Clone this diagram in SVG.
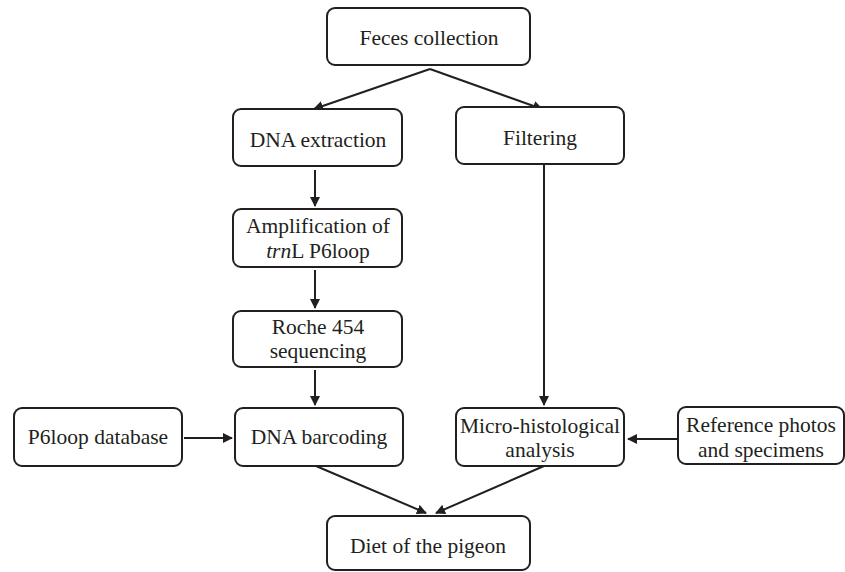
<svg xmlns="http://www.w3.org/2000/svg" width="845" height="572" viewBox="0 0 845 572">
<defs>
<style>
.box{fill:#fff;stroke:#231f20;stroke-width:2}
.t{font-family:'Liberation Serif','Times New Roman',Times,'DejaVu Serif',serif;font-size:21.5px;fill:#231f20;text-anchor:middle}
.c{stroke:#231f20;stroke-width:2;fill:none;marker-end:url(#ah)}
</style>
<marker id="ah" viewBox="0 0 10 10" refX="9" refY="5" markerWidth="5" markerHeight="5" orient="auto" markerUnits="strokeWidth">
<path d="M0,0 L10,5 L0,10 z" fill="#231f20"/>
</marker>
</defs>
<rect width="845" height="572" fill="#fff"/>
<g id="connectors">
<line class="c" x1="430" y1="69" x2="314" y2="109"/>
<line class="c" x1="430" y1="69" x2="542" y2="109"/>
<line class="c" x1="315" y1="170" x2="315" y2="206"/>
<line class="c" x1="315" y1="270" x2="315" y2="308"/>
<line class="c" x1="315" y1="370" x2="315" y2="405"/>
<line class="c" x1="544" y1="164" x2="544" y2="405"/>
<line class="c" x1="184" y1="438" x2="232" y2="438"/>
<line class="c" x1="678" y1="439" x2="628" y2="439"/>
<line class="c" x1="316" y1="466" x2="426" y2="513"/>
<line class="c" x1="544" y1="466" x2="436" y2="513"/>
</g>
<g id="feces"><rect class="box" x="327" y="8" width="203" height="57" rx="8"/><text class="t" x="429" y="45">Feces collection</text></g>
<g id="dna-extraction"><rect class="box" x="233" y="109" width="169" height="57" rx="8"/><text class="t" x="318" y="147">DNA extraction</text></g>
<g id="filtering"><rect class="box" x="456" y="107" width="168" height="57" rx="8"/><text class="t" x="540" y="145">Filtering</text></g>
<g id="amplification"><rect class="box" x="233" y="209" width="169" height="58" rx="8"/><text class="t" x="318" y="233">Amplification of</text><text class="t" x="318" y="258"><tspan font-style="italic">trn</tspan>L P6loop</text></g>
<g id="roche"><rect class="box" x="233" y="311" width="169" height="56" rx="8"/><text class="t" x="318" y="334">Roche 454</text><text class="t" x="318" y="358">sequencing</text></g>
<g id="p6loop-db"><rect class="box" x="14" y="408" width="168" height="58" rx="8"/><text class="t" x="98" y="444">P6loop database</text></g>
<g id="dna-barcoding"><rect class="box" x="235" y="408" width="168" height="58" rx="8"/><text class="t" x="319" y="444">DNA barcoding</text></g>
<g id="micro"><rect class="box" x="456" y="408" width="168" height="58" rx="8"/><text class="t" x="540" y="433">Micro-histological</text><text class="t" x="540" y="457">analysis</text></g>
<g id="reference"><rect class="box" x="678" y="407" width="166" height="57" rx="8"/><text class="t" x="761" y="432">Reference photos</text><text class="t" x="761" y="457">and specimens</text></g>
<g id="diet"><rect class="box" x="327" y="516" width="203" height="54" rx="8"/><text class="t" x="428" y="553">Diet of the pigeon</text></g>
</svg>
